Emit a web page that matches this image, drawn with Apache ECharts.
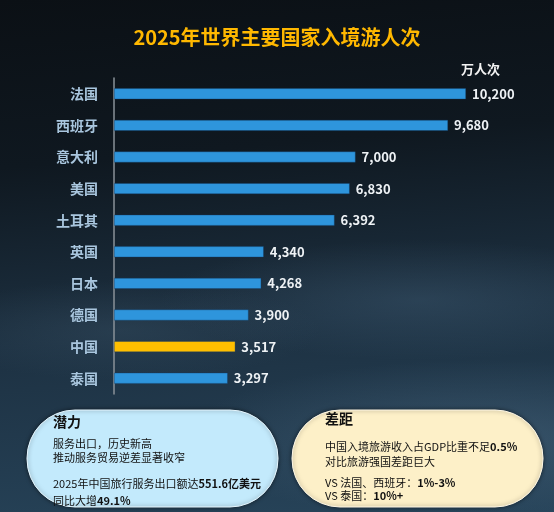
<!DOCTYPE html>
<html>
<head>
<meta charset="utf-8">
<script src="https://cdn.jsdelivr.net/npm/echarts@6/dist/echarts.min.js"></script>
<style>
html,body{margin:0;padding:0;}
body{
	width:554px;height:512px;overflow:hidden;
	background:
		radial-gradient(ellipse 260px 60px at 420px 300px, rgba(70,100,125,0.35), rgba(0,0,0,0)),
		radial-gradient(ellipse 300px 80px at 480px 440px, rgba(80,110,135,0.45), rgba(0,0,0,0)),
		radial-gradient(ellipse 200px 50px at 120px 330px, rgba(60,85,105,0.35), rgba(0,0,0,0)),
		linear-gradient(175deg, #0b1015 0%, #0f1820 30%, #1d3142 62%, #27445a 100%);
}
#chart_main{width:554px;height:512px;}
</style>
</head>
<body>
<div id="chart_main"></div>
<script type="text/javascript">
var categories = ['法国','西班牙','意大利','美国','土耳其','英国','日本','德国','中国','泰国'];
var values = [10200,9680,7000,6830,6392,4340,4268,3900,3517,3297];
var highlight = '中国';

var font = '"Noto Sans CJK SC", "Noto Sans", sans-serif';
var myChart = echarts.init(document.getElementById('chart_main'));

var barData = [];
for(var i=0;i<values.length;i++){
	barData.push({
		value: values[i],
		itemStyle: {color: categories[i] == highlight ? '#ffbf00' : '#2e95dc'}
	});
}

var option = {
	backgroundColor: 'transparent',
	textStyle: {fontFamily: font},
	title: {
		text: '2025年世界主要国家入境游人次',
		left: 'center',
		top: 22,
		textStyle: {color: '#ffb800', fontSize: 20, fontWeight: 'bold', fontFamily: font}
	},
	grid: {left: 114, right: 88, top: 78, height: 316},
	xAxis: {type: 'value', min: 0, max: 10200, show: false},
	yAxis: {
		type: 'category',
		data: categories,
		inverse: true,
		axisLine: {show: true, lineStyle: {color: '#8a9299', width: 1.5}},
		axisTick: {show: false},
		axisLabel: {color: '#a9c6de', fontSize: 14, fontWeight: 'bold', margin: 16, fontFamily: font}
	},
	series: [{
		type: 'bar',
		data: barData,
		barWidth: 11,
		itemStyle: {borderColor: 'rgba(20,60,100,0.6)', borderWidth: 0.6},
		label: {
			show: true,
			position: 'right',
			distance: 6,
			color: '#eef2f5',
			fontSize: 13,
			fontWeight: 'bold',
			fontFamily: font,
			formatter: function(p){ return p.value.toLocaleString('en-US'); }
		}
	}],
	graphic: [
		{type: 'text', left: 461, top: 63, style: {text: '万人次', fill: '#f2f2f2', font: 'bold 13px ' + font}},
		{type: 'rect', shape: {x: 27, y: 410, width: 251, height: 97, r: 48},
			style: {fill: '#c3eafc', stroke: '#e6f7ff', lineWidth: 1, shadowBlur: 4, shadowColor: 'rgba(0,0,0,0.5)'}},
		{type: 'rect', shape: {x: 292, y: 410, width: 251, height: 97, r: 48},
			style: {fill: '#fdf0c8', stroke: '#fff8e6', lineWidth: 1, shadowBlur: 4, shadowColor: 'rgba(0,0,0,0.5)'}},
		{type: 'text', left: 53, top: 415, style: {text: '潜力', fill: '#111', font: 'bold 14px ' + font}},
		{type: 'text', left: 53, top: 437, style: {text: '服务出口，历史新高\n推动服务贸易逆差显著收窄', fill: '#111', font: '11px ' + font, lineHeight: 14}},
		{type: 'text', left: 53, top: 475, style: {
			text: '2025年中国旅行服务出口额达{b|551.6亿美元}\n同比大增{b|49.1%}',
			fill: '#111', font: '11px ' + font, lineHeight: 17,
			rich: {b: {fontWeight: 'bold', fontSize: 11, fill: '#111', fontFamily: font}}
		}},
		{type: 'text', left: 325, top: 412, style: {text: '差距', fill: '#111', font: 'bold 14px ' + font}},
		{type: 'text', left: 325, top: 439, style: {
			text: '中国入境旅游收入占GDP比重不足{b|0.5%}\n对比旅游强国差距巨大',
			fill: '#111', font: '11px ' + font, lineHeight: 15,
			rich: {b: {fontWeight: 'bold', fontSize: 11, fill: '#111', fontFamily: font}}
		}},
		{type: 'text', left: 325, top: 476, style: {
			text: 'VS 法国、西班牙：{b|1%-3%}\nVS 泰国：{b|10%+}',
			fill: '#111', font: '11px ' + font, lineHeight: 13,
			rich: {b: {fontWeight: 'bold', fontSize: 11, fill: '#111', fontFamily: font}}
		}}
	]
};
myChart.setOption(option);
</script>
</body>
</html>
